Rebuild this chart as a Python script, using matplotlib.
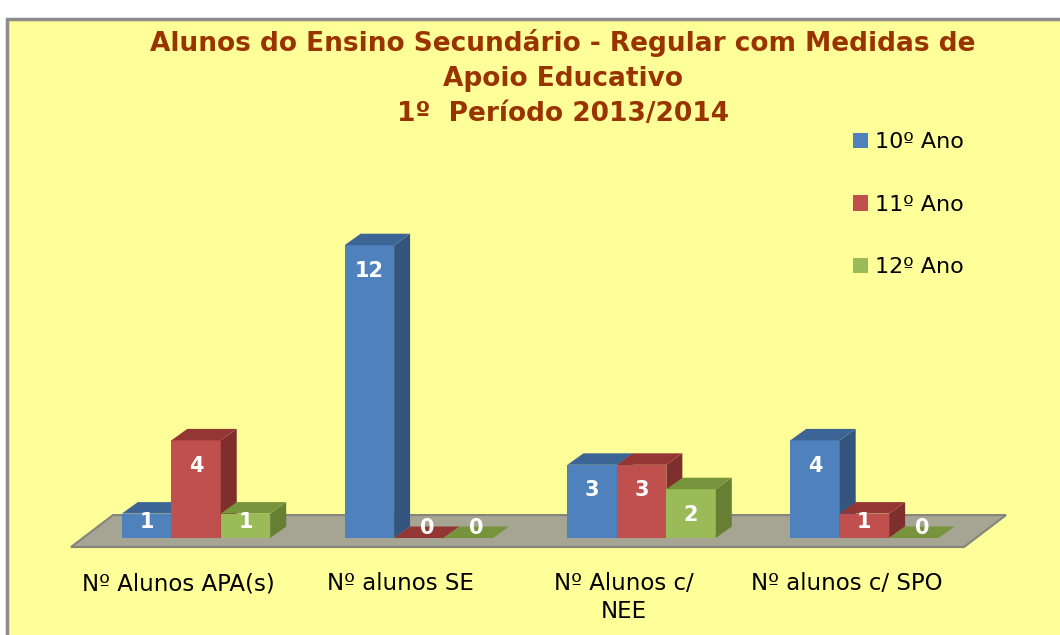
import matplotlib
matplotlib.use("Agg")
import matplotlib.pyplot as plt
from matplotlib.patches import Polygon, Rectangle, Patch

# Data
categories = ["Nº Alunos APA(s)", "Nº alunos SE", "Nº Alunos c/\nNEE", "Nº alunos c/ SPO"]
series_names = ["10º Ano", "11º Ano", "12º Ano"]
ano10 = [1, 12, 3, 4]
ano11 = [4, 0, 3, 1]
ano12 = [1, 0, 2, 0]
values = [ano10, ano11, ano12]

# colours: front, side, top
front_cols = ["#4F81BD", "#C0504D", "#9BBB59"]
side_cols = ["#34557E", "#7E2F2D", "#677F33"]
top_cols = ["#3C6596", "#943634", "#77933C"]

title = "Alunos do Ensino Secundário - Regular com Medidas de\nApoio Educativo\n1º  Período 2013/2014"

W = 0.222          # bar width (category units)
DX = 0.0718        # depth shift, x
DY = 0.471         # depth shift, y (value units)

fig = plt.figure(figsize=(10.6, 6.35), dpi=100)
fig.patch.set_facecolor("white")

# yellow chart area with grey border
fig.patches.append(Rectangle((7 / 1060, -0.2), 1.2, 1.2 - 20 / 635 + 0.001,
                             transform=fig.transFigure, facecolor="#FFFF99",
                             edgecolor="#8C8C8C", linewidth=2.5, zorder=-10))

ax = fig.add_axes([40 / 1060, 75 / 635, 1000 / 1060, 360 / 635])
ax.set_facecolor("none")
ax.set_xlim(-0.7002, 3.788)
ax.set_ylim(-0.9016, 13.852)
for sp in ax.spines.values():
    sp.set_visible(False)
ax.set_yticks([])

# floor
n = len(categories)
fx0, fx1 = -0.561, n - 1 + 0.447
fy0, fy1 = -0.37, 0.94
fsh = 0.1885
ax.add_patch(Polygon([(fx0, fy0), (fx1, fy0), (fx1 + fsh, fy1), (fx0 + fsh, fy1)],
                     closed=True, facecolor="#A6A594", edgecolor="#84847A",
                     linewidth=1.5, zorder=1))

# bars
z = 2.0
for i in range(n):
    for s in range(3):
        v = values[s][i]
        x0 = i + (s - 1) * W - W / 2
        x1 = x0 + W
        z += 0.01
        if v > 0:
            ax.bar(x0, v, width=W, align="edge", color=front_cols[s],
                   linewidth=0, zorder=z)
            ax.add_patch(Polygon([(x1, 0), (x1 + DX, DY), (x1 + DX, v + DY), (x1, v)],
                                 closed=True, facecolor=side_cols[s], linewidth=0, zorder=z))
            ax.add_patch(Polygon([(x0, v), (x1, v), (x1 + DX, v + DY), (x0 + DX, v + DY)],
                                 closed=True, facecolor=top_cols[s], linewidth=0, zorder=z))
            lx = x0 + W / 2
        else:
            ax.add_patch(Polygon([(x0, 0), (x1, 0), (x1 + DX, DY), (x0 + DX, DY)],
                                 closed=True, facecolor=top_cols[s], linewidth=0, zorder=z))
            lx = x0 + W / 2 + DX / 2
        ly = max(v - 1.05, 0.25 * v + 0.4)
        ax.text(lx, ly, str(v), color="white", fontsize=15, fontweight="bold",
                ha="center", va="center", zorder=z + 0.005)

# category labels
ax.set_xticks([i - 0.081 for i in range(n)])
ax.set_xticklabels(categories, fontsize=16.5)
ax.tick_params(axis="x", length=0, pad=9)
for lab in ax.get_xticklabels():
    lab.set_linespacing(1.27)

# title
fig.text(563 / 1060, 1 - 78 / 635, title, ha="center", va="center",
         fontsize=19, fontweight="bold", color="#993300", linespacing=1.45)

# legend
handles = [Patch(facecolor=c, edgecolor="none") for c in front_cols]
fig.legend(handles, series_names, loc="upper left",
           bbox_to_anchor=(853 / 1060, 1 - 132 / 635), frameon=False,
           fontsize=16, handlelength=0.68, handleheight=0.68,
           handletextpad=0.3, labelspacing=1.92, borderpad=0, borderaxespad=0)

fig.savefig("out.png", dpi=100, facecolor=fig.get_facecolor())
